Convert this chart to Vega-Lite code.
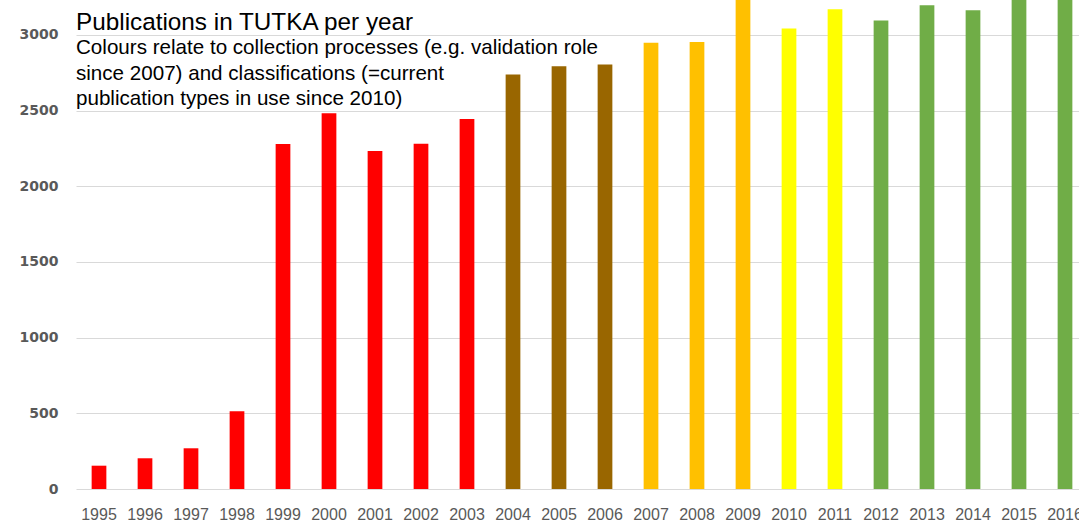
{
  "$schema": "https://vega.github.io/schema/vega-lite/v6.json",
  "autosize": {"type": "none"},
  "padding": {"left": 76, "top": 0, "right": 0, "bottom": 32},
  "width": 1012,
  "height": 489,
  "background": "white",
  "config": {"view": {"stroke": null}},
  "title": {
    "text": "Publications in TUTKA per year",
    "subtitle": ["Colours relate to collection processes (e.g. validation role", "since 2007) and classifications (=current", "publication types in use since 2010)"],
    "anchor": "start",
    "frame": "group",
    "orient": "top",
    "offset": -110,
    "font": "Liberation Sans",
    "fontSize": 24.3,
    "fontWeight": "normal",
    "color": "#000000",
    "subtitleFont": "Liberation Sans",
    "subtitleFontSize": 20.6,
    "subtitleColor": "#000000",
    "subtitleLineHeight": 25.5,
    "subtitlePadding": 3
  },
  "data": {
    "values": [
      {"year": "1995", "count": 154, "group": "a"},
      {"year": "1996", "count": 203, "group": "a"},
      {"year": "1997", "count": 269, "group": "a"},
      {"year": "1998", "count": 514, "group": "a"},
      {"year": "1999", "count": 2280, "group": "a"},
      {"year": "2000", "count": 2483, "group": "a"},
      {"year": "2001", "count": 2234, "group": "a"},
      {"year": "2002", "count": 2282, "group": "a"},
      {"year": "2003", "count": 2445, "group": "a"},
      {"year": "2004", "count": 2738, "group": "b"},
      {"year": "2005", "count": 2793, "group": "b"},
      {"year": "2006", "count": 2804, "group": "b"},
      {"year": "2007", "count": 2948, "group": "c"},
      {"year": "2008", "count": 2954, "group": "c"},
      {"year": "2009", "count": 3300, "group": "c"},
      {"year": "2010", "count": 3042, "group": "d"},
      {"year": "2011", "count": 3170, "group": "d"},
      {"year": "2012", "count": 3096, "group": "e"},
      {"year": "2013", "count": 3197, "group": "e"},
      {"year": "2014", "count": 3163, "group": "e"},
      {"year": "2015", "count": 3350, "group": "e"},
      {"year": "2016", "count": 3350, "group": "e"}
    ]
  },
  "mark": {"type": "bar", "clip": true},
  "encoding": {
    "x": {
      "field": "year",
      "type": "ordinal",
      "scale": {"paddingInner": 0.68, "paddingOuter": 0.34},
      "axis": {
        "title": null,
        "labelAngle": 0,
        "ticks": false,
        "domain": false,
        "labelFont": "Liberation Sans",
        "labelFontSize": 16,
        "labelColor": "#595959",
        "labelPadding": 17
      }
    },
    "y": {
      "field": "count",
      "type": "quantitative",
      "scale": {"domain": [0, 3231], "nice": false},
      "axis": {
        "title": null,
        "values": [0, 500, 1000, 1500, 2000, 2500, 3000],
        "format": "d",
        "ticks": false,
        "domain": false,
        "grid": true,
        "gridColor": "#D9D9D9",
        "gridWidth": 1,
        "labelFont": "DejaVu Sans",
        "labelFontWeight": "bold",
        "labelFontSize": 14,
        "labelColor": "#595959",
        "labelPadding": 18
      }
    },
    "color": {
      "field": "group",
      "type": "nominal",
      "scale": {"domain": ["a", "b", "c", "d", "e"], "range": ["#FF0000", "#996600", "#FFC000", "#FFFF00", "#70AD47"]},
      "legend": null
    }
  }
}
